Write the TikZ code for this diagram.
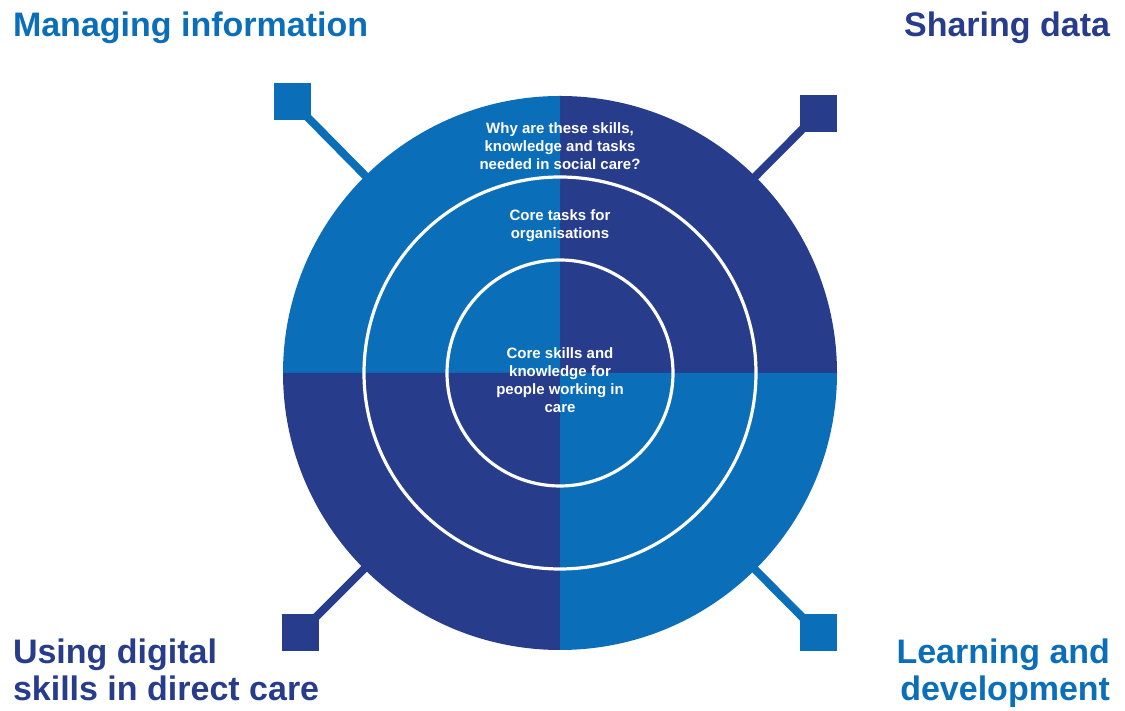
\documentclass[tikz,border=0pt]{standalone}
\usepackage{fontspec}
\setmainfont{Liberation Sans}
\definecolor{lite}{HTML}{0B6EB8}
\definecolor{navy}{HTML}{283C8C}
\begin{document}
\begin{tikzpicture}[x=.5pt,y=.5pt,line width=4pt,
 ring/.style={draw=white,line width=1.6pt},
 lbl/.style={text=white,font=\bfseries\fontsize{7.5}{9}\selectfont,align=center,inner sep=0pt},
 ttl/.style={font=\bfseries\fontsize{17}{18.5}\selectfont,inner sep=0pt},
 sq/.style={minimum size=18.5pt,inner sep=0pt}]
 \useasboundingbox (0,0) rectangle (1125,711);
 \coordinate (hub) at (560,338);
 % corner squares and their spokes
 \foreach \n/\x/\y/\c in {tl/292.5/609/lite,tr/818/597.5/navy,bl/300.5/78.5/navy,br/818/78/lite}{\node[sq,fill=\c] (\n) at (\x,\y) {}; \draw[\c] (\n.center) -- (hub);}
 % quarters of the disc
 \foreach \a/\c in {0/navy,90/lite,180/navy,270/lite}{\fill[\c] (hub) -- ++(\a:277) arc[start angle=\a,delta angle=90,radius=277] -- cycle;}
 \draw[ring] (hub) circle[radius=196] (hub) circle[radius=113];
 \node[lbl] (why) at (560,564.5) {Why are these skills,\\knowledge and tasks\\needed in social care?};
 \node[lbl] (org) at (560,485.5) {Core tasks for\\organisations};
 \node[lbl] (ppl) at (560,331) {Core skills and\\knowledge for\\people working in\\care};
 \node[ttl,text=lite,anchor=base west] (mng) at (9,674) {Managing information};
 \node[ttl,text=navy,anchor=base east] (shr) at (1114,674) {Sharing data};
 \node[ttl,text=navy,align=left,anchor=base west] (dig) at (9,10) {Using digital\\skills in direct care};
 \node[ttl,text=lite,align=right,anchor=base east] (lrn) at (1114,10) {Learning and\\development};
\end{tikzpicture}
\end{document}
